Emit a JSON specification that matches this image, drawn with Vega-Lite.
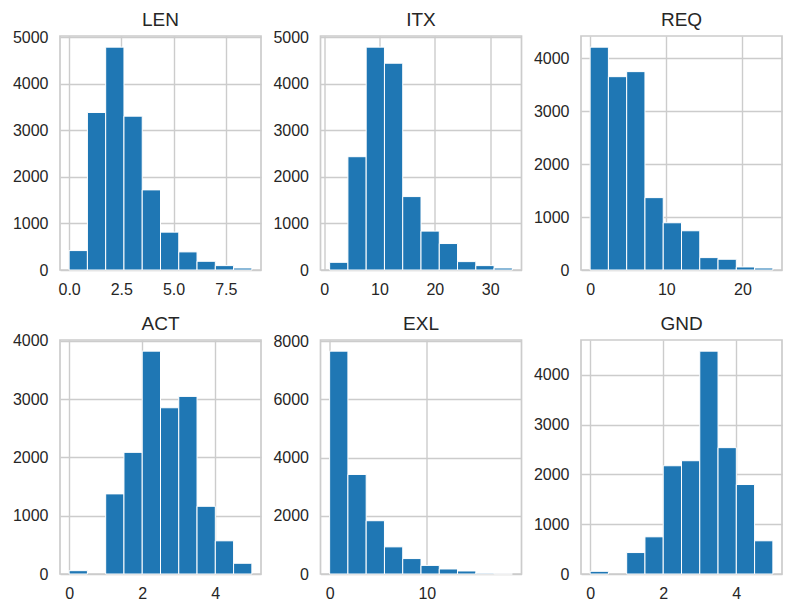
{
  "$schema": "https://vega.github.io/schema/vega-lite/v6.json",
  "padding": {"left": 11, "top": 9, "right": 12, "bottom": 5},
  "background": "white",
  "config": {
    "font": "Liberation Sans",
    "view": {"stroke": "#cccccc", "strokeWidth": 1.7},
    "axis": {"ticks": false, "domain": false, "labelFont": "Liberation Sans", "labelFontSize": 16, "labelColor": "#262626", "gridColor": "#cccccc", "gridWidth": 1.4, "gridOpacity": 1, "labelFlush": false, "labelOverlap": false, "title": null},
    "axisX": {"labelPadding": 11},
    "axisY": {"labelPadding": 12},
    "title": {"font": "Liberation Sans", "fontSize": 19, "fontWeight": "normal", "color": "#262626", "offset": 6},
    "bar": {"color": "#1f77b4", "stroke": "white", "strokeWidth": 1}
  },
  "data": {"values": [
    {"var": "LEN", "bin_start": 0, "bin_end": 0.875, "count": 417},
    {"var": "LEN", "bin_start": 0.875, "bin_end": 1.75, "count": 3384},
    {"var": "LEN", "bin_start": 1.75, "bin_end": 2.625, "count": 4788},
    {"var": "LEN", "bin_start": 2.625, "bin_end": 3.5, "count": 3305},
    {"var": "LEN", "bin_start": 3.5, "bin_end": 4.375, "count": 1721},
    {"var": "LEN", "bin_start": 4.375, "bin_end": 5.25, "count": 813},
    {"var": "LEN", "bin_start": 5.25, "bin_end": 6.125, "count": 389},
    {"var": "LEN", "bin_start": 6.125, "bin_end": 7.0, "count": 187},
    {"var": "LEN", "bin_start": 7.0, "bin_end": 7.875, "count": 94},
    {"var": "LEN", "bin_start": 7.875, "bin_end": 8.75, "count": 43},
    {"var": "ITX", "bin_start": 1, "bin_end": 4.3, "count": 165},
    {"var": "ITX", "bin_start": 4.3, "bin_end": 7.6, "count": 2432},
    {"var": "ITX", "bin_start": 7.6, "bin_end": 10.9, "count": 4784},
    {"var": "ITX", "bin_start": 10.9, "bin_end": 14.2, "count": 4439},
    {"var": "ITX", "bin_start": 14.2, "bin_end": 17.5, "count": 1576},
    {"var": "ITX", "bin_start": 17.5, "bin_end": 20.8, "count": 835},
    {"var": "ITX", "bin_start": 20.8, "bin_end": 24.1, "count": 568},
    {"var": "ITX", "bin_start": 24.1, "bin_end": 27.4, "count": 180},
    {"var": "ITX", "bin_start": 27.4, "bin_end": 30.7, "count": 94},
    {"var": "ITX", "bin_start": 30.7, "bin_end": 34, "count": 43},
    {"var": "REQ", "bin_start": 0, "bin_end": 2.4, "count": 4209},
    {"var": "REQ", "bin_start": 2.4, "bin_end": 4.8, "count": 3652},
    {"var": "REQ", "bin_start": 4.8, "bin_end": 7.2, "count": 3747},
    {"var": "REQ", "bin_start": 7.2, "bin_end": 9.6, "count": 1367},
    {"var": "REQ", "bin_start": 9.6, "bin_end": 12, "count": 892},
    {"var": "REQ", "bin_start": 12, "bin_end": 14.4, "count": 741},
    {"var": "REQ", "bin_start": 14.4, "bin_end": 16.8, "count": 234},
    {"var": "REQ", "bin_start": 16.8, "bin_end": 19.2, "count": 203},
    {"var": "REQ", "bin_start": 19.2, "bin_end": 21.6, "count": 57},
    {"var": "REQ", "bin_start": 21.6, "bin_end": 24, "count": 38},
    {"var": "ACT", "bin_start": 0, "bin_end": 0.5, "count": 57},
    {"var": "ACT", "bin_start": 0.5, "bin_end": 1.0, "count": 0},
    {"var": "ACT", "bin_start": 1.0, "bin_end": 1.5, "count": 1374},
    {"var": "ACT", "bin_start": 1.5, "bin_end": 2.0, "count": 2086},
    {"var": "ACT", "bin_start": 2.0, "bin_end": 2.5, "count": 3822},
    {"var": "ACT", "bin_start": 2.5, "bin_end": 3.0, "count": 2851},
    {"var": "ACT", "bin_start": 3.0, "bin_end": 3.5, "count": 3046},
    {"var": "ACT", "bin_start": 3.5, "bin_end": 4.0, "count": 1161},
    {"var": "ACT", "bin_start": 4.0, "bin_end": 4.5, "count": 569},
    {"var": "ACT", "bin_start": 4.5, "bin_end": 5.0, "count": 184},
    {"var": "EXL", "bin_start": 0, "bin_end": 1.88, "count": 7655},
    {"var": "EXL", "bin_start": 1.88, "bin_end": 3.76, "count": 3419},
    {"var": "EXL", "bin_start": 3.76, "bin_end": 5.64, "count": 1830},
    {"var": "EXL", "bin_start": 5.64, "bin_end": 7.52, "count": 932},
    {"var": "EXL", "bin_start": 7.52, "bin_end": 9.4, "count": 530},
    {"var": "EXL", "bin_start": 9.4, "bin_end": 11.28, "count": 295},
    {"var": "EXL", "bin_start": 11.28, "bin_end": 13.16, "count": 172},
    {"var": "EXL", "bin_start": 13.16, "bin_end": 15.04, "count": 104},
    {"var": "EXL", "bin_start": 15.04, "bin_end": 16.92, "count": 28},
    {"var": "EXL", "bin_start": 16.92, "bin_end": 18.8, "count": 3},
    {"var": "GND", "bin_start": 0, "bin_end": 0.5, "count": 54},
    {"var": "GND", "bin_start": 0.5, "bin_end": 1.0, "count": 0},
    {"var": "GND", "bin_start": 1.0, "bin_end": 1.5, "count": 431},
    {"var": "GND", "bin_start": 1.5, "bin_end": 2.0, "count": 747},
    {"var": "GND", "bin_start": 2.0, "bin_end": 2.5, "count": 2175},
    {"var": "GND", "bin_start": 2.5, "bin_end": 3.0, "count": 2276},
    {"var": "GND", "bin_start": 3.0, "bin_end": 3.5, "count": 4478},
    {"var": "GND", "bin_start": 3.5, "bin_end": 4.0, "count": 2539},
    {"var": "GND", "bin_start": 4.0, "bin_end": 4.5, "count": 1798},
    {"var": "GND", "bin_start": 4.5, "bin_end": 5.0, "count": 667}
  ]},
  "columns": 3,
  "bounds": "flush",
  "spacing": {"row": 70, "column": 59.5},
  "concat": [
    {
      "width": 201, "height": 234, "title": {"text": "LEN", "offset": -0.7},
      "transform": [{"filter": "datum.var === 'LEN' && datum.count > 0"}],
      "mark": {"type": "bar"},
      "encoding": {
        "x": {"field": "bin_start", "type": "quantitative", "scale": {"domain": [-0.4375, 9.1875], "nice": false, "zero": false}, "axis": {"values": [0, 2.5, 5, 7.5], "format": ".1f"}},
        "x2": {"field": "bin_end"},
        "y": {"field": "count", "type": "quantitative", "scale": {"domain": [0, 5027], "nice": false}, "axis": {"values": [0, 1000, 2000, 3000, 4000, 5000], "format": "d"}},
        "y2": {"datum": 0}
      }
    },
    {
      "width": 201, "height": 234, "title": {"text": "ITX", "offset": -0.7},
      "transform": [{"filter": "datum.var === 'ITX' && datum.count > 0"}],
      "mark": {"type": "bar"},
      "encoding": {
        "x": {"field": "bin_start", "type": "quantitative", "scale": {"domain": [-0.65, 35.65], "nice": false, "zero": false}, "axis": {"values": [0, 10, 20, 30], "format": "d"}},
        "x2": {"field": "bin_end"},
        "y": {"field": "count", "type": "quantitative", "scale": {"domain": [0, 5023], "nice": false}, "axis": {"values": [0, 1000, 2000, 3000, 4000, 5000], "format": "d"}},
        "y2": {"datum": 0}
      }
    },
    {
      "width": 201, "height": 234, "title": {"text": "REQ", "offset": 6},
      "transform": [{"filter": "datum.var === 'REQ' && datum.count > 0"}],
      "mark": {"type": "bar"},
      "encoding": {
        "x": {"field": "bin_start", "type": "quantitative", "scale": {"domain": [-1.2, 25.2], "nice": false, "zero": false}, "axis": {"values": [0, 10, 20], "format": "d"}},
        "x2": {"field": "bin_end"},
        "y": {"field": "count", "type": "quantitative", "scale": {"domain": [0, 4420], "nice": false}, "axis": {"values": [0, 1000, 2000, 3000, 4000], "format": "d"}},
        "y2": {"datum": 0}
      }
    },
    {
      "width": 201, "height": 234, "title": {"text": "ACT", "offset": -1.2},
      "transform": [{"filter": "datum.var === 'ACT' && datum.count > 0"}],
      "mark": {"type": "bar"},
      "encoding": {
        "x": {"field": "bin_start", "type": "quantitative", "scale": {"domain": [-0.25, 5.25], "nice": false, "zero": false}, "axis": {"values": [0, 2, 4], "format": "d"}},
        "x2": {"field": "bin_end"},
        "y": {"field": "count", "type": "quantitative", "scale": {"domain": [0, 4013], "nice": false}, "axis": {"values": [0, 1000, 2000, 3000, 4000], "format": "d"}},
        "y2": {"datum": 0}
      }
    },
    {
      "width": 201, "height": 234, "title": {"text": "EXL", "offset": -0.9},
      "transform": [{"filter": "datum.var === 'EXL' && datum.count > 0"}],
      "mark": {"type": "bar"},
      "encoding": {
        "x": {"field": "bin_start", "type": "quantitative", "scale": {"domain": [-0.94, 19.74], "nice": false, "zero": false}, "axis": {"values": [0, 10], "format": "d"}},
        "x2": {"field": "bin_end"},
        "y": {"field": "count", "type": "quantitative", "scale": {"domain": [0, 8038], "nice": false}, "axis": {"values": [0, 2000, 4000, 6000, 8000], "format": "d"}},
        "y2": {"datum": 0}
      }
    },
    {
      "width": 201, "height": 234, "title": {"text": "GND", "offset": 6},
      "transform": [{"filter": "datum.var === 'GND' && datum.count > 0"}],
      "mark": {"type": "bar"},
      "encoding": {
        "x": {"field": "bin_start", "type": "quantitative", "scale": {"domain": [-0.25, 5.25], "nice": false, "zero": false}, "axis": {"values": [0, 2, 4], "format": "d"}},
        "x2": {"field": "bin_end"},
        "y": {"field": "count", "type": "quantitative", "scale": {"domain": [0, 4702], "nice": false}, "axis": {"values": [0, 1000, 2000, 3000, 4000], "format": "d"}},
        "y2": {"datum": 0}
      }
    }
  ]
}
